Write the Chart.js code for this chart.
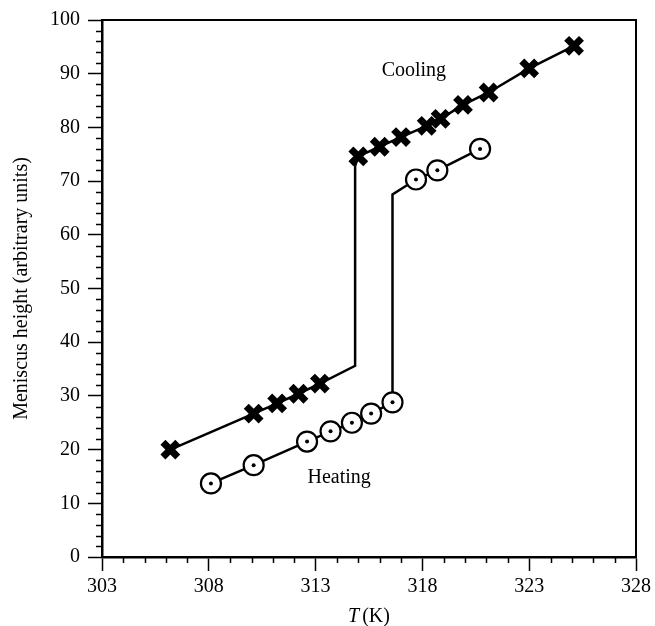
<!DOCTYPE html>
<html>
<head>
<meta charset="utf-8">
<script src="https://cdn.jsdelivr.net/npm/chart.js@4.4.0/dist/chart.umd.min.js"></script>
<style>
  body { margin: 0; background: #fff; }
  #wrap { width: 655px; height: 626px; }
</style>
</head>
<body>
<div id="wrap"><canvas id="meniscusChart" width="655" height="626"></canvas></div>
<script>
// Datos
const coolingT = [306.2, 310.1, 311.2, 312.2, 313.2, 315.0, 316.0, 317.0, 318.2, 318.85, 319.9, 321.1, 323.0, 325.1];
const coolingH = [20.0, 26.7, 28.6, 30.4, 32.3, 74.6, 76.4, 78.2, 80.3, 81.6, 84.2, 86.5, 91.0, 95.2];
// esquinas del salto (sin marcador)
const coolingJumpT = [314.85, 314.85];
const coolingJumpH = [35.6, 72.8];

const heatingT = [308.1, 310.1, 312.6, 313.7, 314.7, 315.6, 316.6, 317.7, 318.7, 320.7];
const heatingH = [13.7, 17.1, 21.5, 23.4, 25.0, 26.7, 28.8, 70.3, 72.0, 76.0];
const heatingJumpT = [316.6];
const heatingJumpH = [67.5];

const xTicks = [303, 308, 313, 318, 323, 328];
const yTicks = [0, 10, 20, 30, 40, 50, 60, 70, 80, 90, 100];

const labelTexts = ['Cooling', 'Heating'];
const labelT = [317.6, 314.1];
const labelH = [90.6, 14.8];

const serif = '"Liberation Serif", "Times New Roman", serif';

function toPoints(xs, ys) {
    return xs.map((x, i) => ({ x: x, y: ys[i] }));
}

function lineWithJump(xs, ys, jx, jy) {
    return toPoints(xs, ys).concat(toPoints(jx, jy)).sort((a, b) => a.x - b.x || a.y - b.y);
}

// Marcas menores, marco y textos
const extrasPlugin = {
    id: 'extras',
    afterDraw(chart) {
        const ctx = chart.ctx;
        const a = chart.chartArea;
        const xs = chart.scales.x;
        const ys = chart.scales.y;
        ctx.save();
        ctx.strokeStyle = '#000';
        ctx.lineWidth = 1.5;
        ctx.beginPath();
        for (let t = 303; t <= 328; t++) {
            if ((t - 303) % 5 === 0) continue;
            const px = Math.round(xs.getPixelForValue(t)) + 0.5;
            ctx.moveTo(px, a.bottom);
            ctx.lineTo(px, a.bottom + 6);
        }
        for (let h = 0; h <= 100; h += 2) {
            if (h % 10 === 0) continue;
            const py = Math.round(ys.getPixelForValue(h)) + 0.5;
            ctx.moveTo(a.left, py);
            ctx.lineTo(a.left - 6, py);
        }
        ctx.stroke();

        // marco superior y derecho
        ctx.lineWidth = 2;
        ctx.beginPath();
        ctx.moveTo(a.left, a.top);
        ctx.lineTo(a.right, a.top);
        ctx.lineTo(a.right, a.bottom);
        ctx.stroke();

        // etiquetas de las curvas
        ctx.fillStyle = '#000';
        ctx.font = '20px ' + serif;
        ctx.textAlign = 'center';
        ctx.textBaseline = 'middle';
        labelTexts.forEach((txt, i) => {
            ctx.fillText(txt, xs.getPixelForValue(labelT[i]), ys.getPixelForValue(labelH[i]));
        });

        // título del eje x: T (K) con T en cursiva
        const cx = (a.left + a.right) / 2;
        const cy = 617;
        ctx.textAlign = 'left';
        ctx.font = 'italic 20px ' + serif;
        const wT = ctx.measureText('T').width;
        ctx.font = '20px ' + serif;
        const wK = ctx.measureText('(K)').width;
        const gap = 3;
        const x0 = cx - (wT + gap + wK) / 2;
        ctx.font = 'italic 20px ' + serif;
        ctx.fillText('T', x0, cy);
        ctx.font = '20px ' + serif;
        ctx.fillText('(K)', x0 + wT + gap, cy);
        ctx.restore();
    }
};

const ctx = document.getElementById('meniscusChart').getContext('2d');
new Chart(ctx, {
    type: 'scatter',
    data: {
        datasets: [
            {
                label: 'Heating dots',
                data: toPoints(heatingT, heatingH),
                showLine: false,
                pointStyle: 'circle',
                pointRadius: 2,
                pointBackgroundColor: '#000',
                pointBorderWidth: 0
            },
            {
                label: 'Heating',
                data: toPoints(heatingT, heatingH),
                showLine: false,
                pointStyle: 'circle',
                pointRadius: 10,
                pointBackgroundColor: '#fff',
                pointBorderColor: '#000',
                pointBorderWidth: 2.2
            },
            {
                label: 'Cooling',
                data: toPoints(coolingT, coolingH),
                showLine: false,
                pointStyle: 'crossRot',
                pointRadius: 10.5,
                pointBorderColor: '#000',
                pointBorderWidth: 7
            },
            {
                label: 'Cooling line',
                data: lineWithJump(coolingT, coolingH, coolingJumpT, coolingJumpH),
                showLine: true,
                borderColor: '#000',
                borderWidth: 2.5,
                pointRadius: 0,
                tension: 0
            },
            {
                label: 'Heating line',
                data: lineWithJump(heatingT, heatingH, heatingJumpT, heatingJumpH),
                showLine: true,
                borderColor: '#000',
                borderWidth: 2.5,
                pointRadius: 0,
                tension: 0
            }
        ]
    },
    options: {
        responsive: false,
        animation: false,
        layout: { padding: { top: 17, right: 18, left: 0, bottom: 0 } },
        plugins: {
            legend: { display: false },
            tooltip: { enabled: false }
        },
        scales: {
            x: {
                type: 'linear',
                min: xTicks[0],
                max: xTicks[xTicks.length - 1],
                afterBuildTicks: (scale) => { scale.ticks = xTicks.map(v => ({ value: v })); },
                ticks: {
                    color: '#000',
                    font: { family: serif, size: 20 },
                    maxRotation: 0,
                    padding: 4
                },
                grid: {
                    drawOnChartArea: false,
                    drawTicks: true,
                    tickLength: 14,
                    tickWidth: 1.5,
                    tickColor: '#000'
                },
                border: { display: true, color: '#000', width: 2.5 },
                afterFit: (scale) => { scale.height = 69; }
            },
            y: {
                type: 'linear',
                min: yTicks[0],
                max: yTicks[yTicks.length - 1],
                afterBuildTicks: (scale) => { scale.ticks = yTicks.map(v => ({ value: v })); },
                ticks: {
                    color: '#000',
                    font: { family: serif, size: 20 },
                    padding: 8
                },
                grid: {
                    drawOnChartArea: false,
                    drawTicks: true,
                    tickLength: 14,
                    tickWidth: 1.5,
                    tickColor: '#000'
                },
                border: { display: true, color: '#000', width: 2.5 },
                title: {
                    display: true,
                    text: 'Meniscus height (arbitrary units)',
                    color: '#000',
                    font: { family: serif, size: 20 },
                    padding: { top: 10, bottom: 0 }
                },
                afterFit: (scale) => { scale.width = 102; }
            }
        }
    },
    plugins: [extrasPlugin]
});
</script>
</body>
</html>
